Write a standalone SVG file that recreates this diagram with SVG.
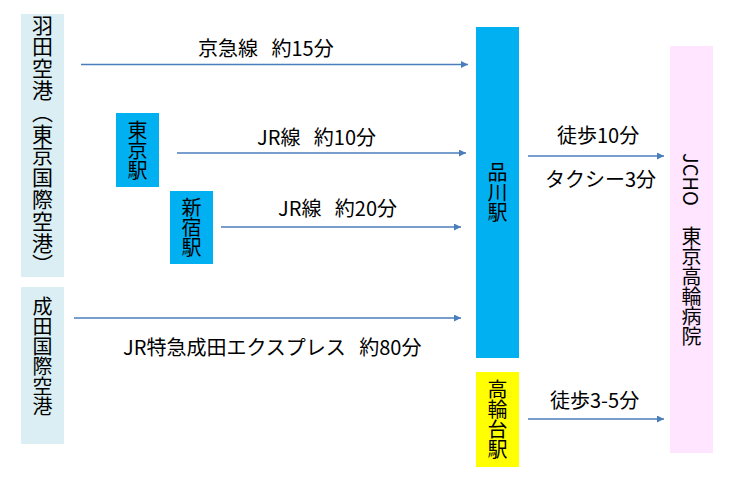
<svg xmlns="http://www.w3.org/2000/svg" width="745" height="488" viewBox="0 0 745 488">
<defs>
<style>
.t{font-family:"Noto Sans CJK JP","Noto Sans CJK SC",sans-serif;font-size:20px;fill:#000}
.v{writing-mode:vertical-rl;text-anchor:middle}
.c{stroke:#4A7EBB;stroke-width:1.4;fill:none;marker-end:url(#ah)}
</style>
<marker id="ah" markerUnits="userSpaceOnUse" markerWidth="8" markerHeight="8" refX="7" refY="3.5" orient="auto">
<path d="M0,0 L7,3.5 L0,7 Z" fill="#4A7EBB"/>
</marker>
</defs>
<rect width="745" height="488" fill="#fff"/>
<g id="haneda"><rect x="21" y="14" width="43" height="263" fill="#DAEEF3"/><text class="t v" x="42.5" y="145" style="font-size:21px;letter-spacing:0.8px">羽田空港（東京国際空港）</text></g>
<g id="narita"><rect x="21" y="287" width="43" height="157" fill="#DAEEF3"/><text class="t v" x="42.5" y="356">成田国際空港</text></g>
<g id="tokyo"><rect x="116" y="113" width="43" height="74" fill="#00B0F0"/><text class="t v" x="137.5" y="150">東京駅</text></g>
<g id="shinjuku"><rect x="170" y="191" width="43" height="73" fill="#00B0F0"/><text class="t v" x="191.5" y="227.5">新宿駅</text></g>
<g id="shinagawa"><rect x="476" y="27" width="43" height="331" fill="#00B0F0"/><text class="t v" x="497.5" y="192.5">品川駅</text></g>
<g id="takanawadai"><rect x="476" y="372" width="43" height="95" fill="#FFFF00"/><text class="t v" x="497.5" y="419.5">高輪台駅</text></g>
<g id="jcho"><rect x="670" y="46" width="43" height="407" fill="#FFE5FF"/><text class="t v" x="691.5" y="249.5">JCHO　東京高輪病院</text></g>
<g id="connectors">
<line class="c" x1="81" y1="64.5" x2="468" y2="64.5"/>
<line class="c" x1="177" y1="153" x2="466" y2="153"/>
<line class="c" x1="221" y1="227" x2="461" y2="227"/>
<line class="c" x1="74" y1="318" x2="461" y2="318"/>
<line class="c" x1="528" y1="156" x2="664" y2="156"/>
<line class="c" x1="528" y1="419" x2="664" y2="419"/>
<text class="t" x="198" y="56" xml:space="preserve">京急線   約15分</text>
<text class="t" x="257" y="145" xml:space="preserve">JR線   約10分</text>
<text class="t" x="278" y="216" xml:space="preserve">JR線   約20分</text>
<text class="t" x="123" y="355" xml:space="preserve">JR特急成田エクスプレス   約80分</text>
<text class="t" x="557" y="143">徒歩10分</text>
<text class="t" x="545" y="187">タクシー3分</text>
<text class="t" x="550" y="408">徒歩3-5分</text>
</g>
</svg>
